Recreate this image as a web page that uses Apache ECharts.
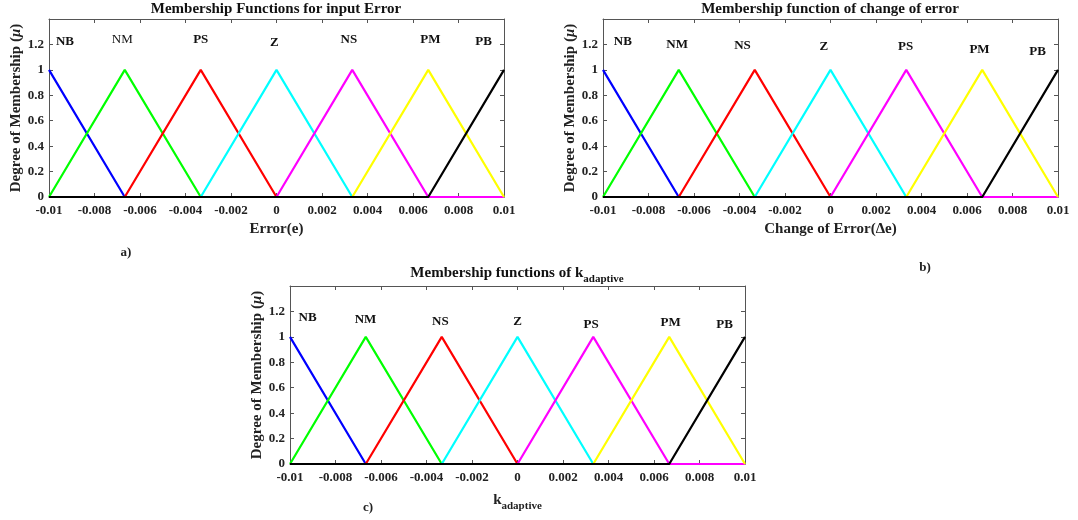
<!DOCTYPE html>
<html><head><meta charset="utf-8">
<script src="https://cdn.jsdelivr.net/npm/echarts@6/dist/echarts.min.js"></script>
<style>html,body{margin:0;padding:0;background:#fff}#c{width:1078px;height:520px}</style>
</head><body><div id="c"></div>
<script>
// ---- data ----
const xBreaks = [-0.01, -0.00667, -0.00333, 0, 0.00333, 0.00667, 0.01];
const curveBlue    = [1, 0, 0, 0, 0, 0, 0];
const curveGreen   = [0, 1, 0, 0, 0, 0, 0];
const curveRed     = [0, 0, 1, 0, 0, 0, 0];
const curveCyan    = [0, 0, 0, 1, 0, 0, 0];
const curveMagenta = [0, 0, 0, 0, 1, 0, 0];
const curveYellow  = [0, 0, 0, 0, 0, 1, 0];
const curveBlack   = [0, 0, 0, 0, 0, 0, 1];

const labelsA = ['NB', 'NM', 'PS', 'Z', 'NS', 'PM', 'PB'];
const labelAX = [-0.0093, -0.00678, -0.00333, -0.0001, 0.00318, 0.00676, 0.0091];
const labelAY = [1.222, 1.235, 1.235, 1.214, 1.235, 1.235, 1.22];

const labelsB = ['NB', 'NM', 'NS', 'Z', 'PS', 'PM', 'PB'];
const labelBX = [-0.00913, -0.00674, -0.00387, -0.00029, 0.0033, 0.00655, 0.0091];
const labelBY = [1.224, 1.197, 1.189, 1.179, 1.179, 1.158, 1.145];

const labelsC = ['NB', 'NM', 'NS', 'Z', 'PS', 'PM', 'PB'];
const labelCX = [-0.00923, -0.00668, -0.00339, 0, 0.00324, 0.00673, 0.0091];
const labelCY = [1.148, 1.135, 1.117, 1.122, 1.099, 1.112, 1.099];

const xMin = -0.01, xMax = 0.01, xStep = 0.002;
const yMin = 0, yMax = 1.4, yStep = 0.2;

// ---- style ----
const FONT = '"Liberation Serif", "Times New Roman", serif';
const TXT = '#222';
const AX = '#555';
const curves = [curveBlue, curveGreen, curveRed, curveCyan, curveMagenta, curveYellow, curveBlack];
const colors = ['#0000ff', '#00ff00', '#ff0000', '#00ffff', '#ff00ff', '#ffff00', '#000000'];

const panels = [
  { grid: { left: 49, top: 19, width: 455, height: 178 }, labels: labelsA, lx: labelAX, ly: labelAY,
    xname: 'Error(e)', normal: ['NM'] },
  { grid: { left: 603, top: 19, width: 455, height: 178 }, labels: labelsB, lx: labelBX, ly: labelBY,
    xname: 'Change of Error(Δe)', normal: [] },
  { grid: { left: 290, top: 286, width: 455, height: 178 }, labels: labelsC, lx: labelCX, ly: labelCY,
    xname: '{k|k}{s|adaptive}', normal: [] }
];

const grids = [], xAxes = [], yAxes = [], series = [];
const fmtX = v => String(+(+v).toFixed(3));
const fmtY = v => String(+(+v).toFixed(1));

panels.forEach((p, i) => {
  grids.push(Object.assign({ containLabel: false }, p.grid));
  const tick = { show: true, inside: true, length: 4, lineStyle: { color: AX, width: 1 } };
  const line = { show: true, onZero: false, lineStyle: { color: AX, width: 1 } };
  xAxes.push({
    gridIndex: i, type: 'value', min: xMin, max: xMax, interval: xStep, position: 'bottom',
    axisLine: line, axisTick: tick, splitLine: { show: false },
    axisLabel: { margin: 7, fontFamily: FONT, fontWeight: 'bold', fontSize: 13, color: TXT, formatter: fmtX },
    name: p.xname, nameLocation: 'middle', nameGap: 25,
    nameTextStyle: { fontFamily: FONT, fontWeight: 'bold', fontSize: 15, color: TXT,
      rich: { k: { fontFamily: FONT, fontWeight: 'bold', fontSize: 15, color: TXT },
              s: { fontFamily: FONT, fontWeight: 'bold', fontSize: 11, color: TXT, padding: [12, 0, 0, 0] } } }
  });
  xAxes.push({
    gridIndex: i, type: 'value', min: xMin, max: xMax, interval: xStep, position: 'top',
    axisLine: line, axisTick: tick, splitLine: { show: false }, axisLabel: { show: false }
  });
  yAxes.push({
    gridIndex: i, type: 'value', min: yMin, max: yMax, interval: yStep, position: 'left',
    axisLine: line, axisTick: tick, splitLine: { show: false },
    axisLabel: { margin: 5, fontFamily: FONT, fontWeight: 'bold', fontSize: 13, color: TXT, formatter: fmtY, showMaxLabel: false },
    name: '{a|Degree of Membership (}{m|μ}{a|)}', nameLocation: 'middle', nameGap: 23,
    nameTextStyle: { rich: {
      a: { fontFamily: FONT, fontWeight: 'bold', fontSize: 15, color: TXT },
      m: { fontFamily: FONT, fontStyle: 'italic', fontWeight: 'bold', fontSize: 15, color: TXT } } }
  });
  yAxes.push({
    gridIndex: i, type: 'value', min: yMin, max: yMax, interval: yStep, position: 'right',
    axisLine: line, axisTick: tick, splitLine: { show: false }, axisLabel: { show: false }
  });
  curves.forEach((c, k) => {
    series.push({
      type: 'line', xAxisIndex: 2 * i, yAxisIndex: 2 * i, symbol: 'none', silent: true,
      lineStyle: { color: colors[k], width: 2.2 }, animation: false,
      data: xBreaks.map((x, j) => [x, c[j]])
    });
  });
  series.push({
    type: 'scatter', xAxisIndex: 2 * i, yAxisIndex: 2 * i, symbolSize: 1, silent: true, z: 10,
    itemStyle: { color: 'rgba(0,0,0,0)', opacity: 1 }, animation: false,
    data: p.labels.map((t, j) => ({
      name: t, value: [p.lx[j], p.ly[j]],
      label: { fontWeight: p.normal.includes(t) ? 'normal' : 'bold' }
    })),
    label: { show: true, position: 'inside', formatter: q => q.name, fontFamily: FONT, fontSize: 13,
      color: '#111', opacity: 1, textBorderWidth: 0 }
  });
});

const titleFont = 'bold 15px ' + FONT;
const graphic = [
  { type: 'text', x: 276, y: 9, style: { text: 'Membership Functions for input Error', font: titleFont, fill: '#111', align: 'center', verticalAlign: 'middle', textAlign: 'center', textVerticalAlign: 'middle' } },
  { type: 'text', x: 830, y: 9, style: { text: 'Membership function of change of error', font: titleFont, fill: '#111', align: 'center', verticalAlign: 'middle', textAlign: 'center', textVerticalAlign: 'middle' } },
  { type: 'text', x: 517, y: 273, style: { text: '{m|Membership functions of k}{s|adaptive}', fill: '#111', align: 'center', verticalAlign: 'middle', textAlign: 'center', textVerticalAlign: 'middle',
      rich: { m: { font: titleFont, fill: '#111' }, s: { font: 'bold 11px ' + FONT, fill: '#111', padding: [12, 0, 0, 0] } } } },
  { type: 'text', x: 126, y: 253, style: { text: 'a)', font: 'bold 13px ' + FONT, fill: TXT, align: 'center', verticalAlign: 'middle', textAlign: 'center', textVerticalAlign: 'middle' } },
  { type: 'text', x: 925, y: 268, style: { text: 'b)', font: 'bold 13px ' + FONT, fill: TXT, align: 'center', verticalAlign: 'middle', textAlign: 'center', textVerticalAlign: 'middle' } },
  { type: 'text', x: 368, y: 508, style: { text: 'c)', font: 'bold 13px ' + FONT, fill: TXT, align: 'center', verticalAlign: 'middle', textAlign: 'center', textVerticalAlign: 'middle' } }
];

const chart = echarts.init(document.getElementById('c'), null, { renderer: 'canvas' });
chart.setOption({ animation: false, backgroundColor: '#fff', grid: grids, xAxis: xAxes, yAxis: yAxes, series: series, graphic: graphic });
</script></body></html>
